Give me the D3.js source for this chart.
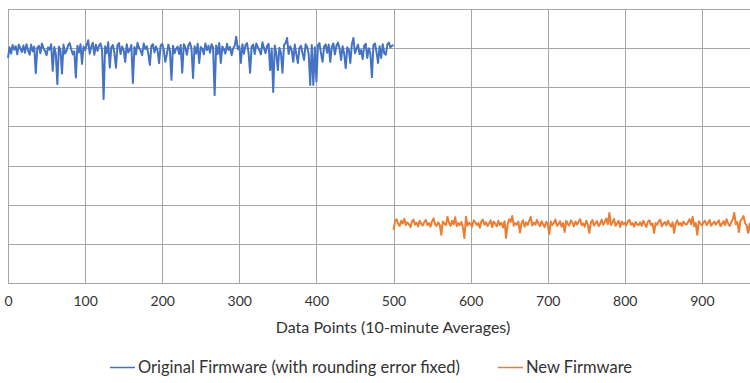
<!DOCTYPE html>
<html>
<head>
<meta charset="utf-8">
<script src="https://cdn.jsdelivr.net/npm/d3@7"></script>
<style>
  body { margin: 0; background: #fff; }
  svg { display: block; font-family: Lato, "Open Sans", sans-serif; }
</style>
</head>
<body>
<svg width="750" height="383"></svg>
<script>
// Series data, one value every 2 data points
const step = 2;
const originalStart = 0;
const originalValues = [
  57.5, 60.2, 58.6, 60.8, 59.6, 60.5, 58.4, 60.9, 60.0, 59.0,
  60.7, 58.8, 61.0, 59.5, 58.3, 60.9, 59.2, 60.4, 53.6, 60.1,
  60.6, 58.7, 61.2, 60.0, 59.3, 58.2, 60.2, 59.6, 61.0, 54.2,
  60.3, 58.5, 50.8, 60.4, 59.6, 53.5, 60.9, 58.6, 59.4, 60.7,
  61.3, 59.8, 58.4, 59.2, 52.5, 60.6, 58.9, 61.0, 56.0, 60.4,
  59.5, 60.8, 62.0, 58.6, 60.3, 61.4, 58.3, 60.9, 59.3, 60.6,
  61.2, 59.7, 47.0, 60.5, 58.7, 61.5, 55.0, 60.2, 60.8, 58.8,
  55.0, 60.7, 61.3, 58.5, 60.4, 59.5, 56.5, 61.0, 58.9, 59.6,
  60.8, 51.1, 60.3, 58.4, 61.4, 60.0, 59.4, 58.2, 61.2, 59.8,
  60.5, 58.6, 55.7, 60.6, 61.0, 58.9, 60.4, 59.5, 56.2, 60.7,
  61.1, 59.6, 56.5, 58.4, 60.9, 59.4, 51.9, 60.6, 58.7, 59.8,
  60.4, 58.5, 60.8, 53.7, 61.0, 60.1, 58.3, 60.7, 61.4, 59.9,
  52.4, 60.5, 58.6, 61.1, 56.2, 60.3, 59.8, 58.4, 61.2, 59.5,
  60.6, 58.8, 61.0, 60.2, 48.0, 60.7, 58.5, 61.3, 56.2, 60.4,
  59.7, 58.6, 61.1, 59.5, 60.3, 58.2, 59.9, 60.6, 62.9, 59.8,
  60.5, 56.2, 61.0, 58.6, 60.7, 61.3, 58.9, 53.7, 60.4, 60.9,
  58.5, 61.2, 60.3, 59.5, 58.4, 61.5, 60.0, 58.7, 60.6, 61.1,
  54.4, 59.9, 48.8, 60.7, 58.6, 54.4, 60.1, 58.8, 53.7, 60.8,
  61.3, 62.6, 58.5, 60.5, 59.4, 56.5, 60.9, 58.4, 56.2, 60.0,
  60.6, 58.7, 57.0, 61.0, 60.3, 58.5, 50.6, 60.8, 50.6, 60.2,
  51.5, 60.7, 61.3, 58.6, 56.5, 60.4, 61.0, 58.8, 60.9, 56.5,
  60.3, 61.2, 58.4, 60.6, 61.4, 59.9, 57.0, 60.5, 58.6, 54.9,
  60.2, 59.6, 56.2, 61.0, 62.6, 58.7, 59.8, 60.9, 58.5, 59.5,
  57.2, 60.7, 61.1, 57.5, 60.0, 58.6, 52.6, 60.8, 61.2, 58.9,
  56.2, 60.5, 57.5, 61.0, 58.7, 58.3, 60.9, 61.4, 60.2, 60.6,
  60.8
];
const newStart = 500;
const newValues = [
  13.6, 15.8, 16.3, 15.1, 14.6, 15.9, 15.2, 16.4, 14.8, 15.5,
  15.0, 14.3, 15.7, 16.2, 14.9, 15.4, 14.5, 15.9, 15.1, 14.7,
  15.6, 16.1, 14.8, 15.3, 14.4, 15.8, 16.5, 15.0, 14.6, 15.5,
  14.9, 12.3, 15.7, 15.2, 14.8, 16.9, 15.4, 14.6, 15.9, 15.0,
  16.8, 14.5, 15.3, 14.8, 15.6, 14.2, 11.5, 16.9, 14.7, 15.4,
  15.0, 14.4, 16.0, 15.6, 14.8, 15.3, 14.1, 15.8, 16.2, 14.9,
  15.5, 14.6, 15.2, 16.0, 14.3, 15.7, 15.1, 14.5, 15.9, 14.8,
  15.4, 14.2, 15.8, 11.5, 15.0, 16.3, 15.6, 17.1, 14.6, 15.3,
  14.9, 15.7, 12.9, 15.2, 16.0, 14.4, 15.5, 14.8, 15.9, 16.9,
  14.7, 15.4, 14.9, 16.1, 15.2, 14.5, 15.8, 15.0, 14.3, 15.6,
  15.1, 12.5, 15.7, 14.8, 15.4, 16.2, 14.6, 15.0, 15.8, 14.4,
  15.3, 13.0, 15.9, 15.1, 14.7, 16.0, 15.4, 14.5, 15.7, 14.9,
  15.6, 16.3, 14.8, 15.2, 14.4, 15.9, 15.0, 12.8, 15.5, 16.1,
  14.7, 15.3, 15.8, 14.5, 15.1, 16.2, 14.9, 15.6, 16.5, 15.0,
  17.9, 14.8, 15.5, 16.4, 14.6, 15.2, 15.9, 14.3, 15.7, 15.0,
  15.4, 14.7, 15.8, 16.1, 14.9, 15.3, 14.4, 15.6, 15.0, 14.8,
  15.5, 14.6, 15.9, 15.1, 14.3, 15.7, 16.0, 14.8, 15.2, 12.8,
  15.3, 14.9, 15.8, 16.2, 14.5, 15.1, 15.6, 14.7, 15.9, 15.0,
  14.4, 15.5, 12.8, 15.2, 16.0, 14.8, 15.4, 14.6, 15.7, 15.1,
  14.9, 15.6, 16.3, 15.0, 16.9, 14.5, 15.3, 12.3, 15.8, 15.2,
  14.7, 15.5, 15.9, 14.8, 15.3, 16.1, 14.6, 15.2, 15.7, 14.9,
  15.4, 16.0, 14.5, 15.1, 15.8, 14.8, 16.3, 15.2, 14.6, 15.5,
  16.2, 17.9, 15.0, 15.6, 13.0, 15.9, 16.4, 17.1, 15.3, 14.8,
  12.8, 15.2, 12.3, 15.6, 14.9, 15.4, 15.0
];
const xTicks = [0, 100, 200, 300, 400, 500, 600, 700, 800, 900, 1000];
const xLabels = [0, 100, 200, 300, 400, 500, 600, 700, 800, 900];
const yTicks = [0, 10, 20, 30, 40, 50, 60, 70];
const seriesNames = ["Original Firmware (with rounding error fixed)", "New Firmware"];
const colors = ["#4472c4", "#ed7d31"];

const svg = d3.select("svg");
const margin = { top: 9, left: 8 };
const plotW = 771, plotH = 274;

const g = svg.append("g").attr("transform", `translate(${margin.left},${margin.top})`);

const x = d3.scaleLinear().domain([0, 1000]).range([0, plotW]);
const y = d3.scaleLinear().domain([0, 70]).range([plotH, 0]);

// gridlines
g.append("g")
  .selectAll("line")
  .data(yTicks)
  .join("line")
  .attr("x1", 0).attr("x2", plotW)
  .attr("y1", d => Math.round(y(d)) + 0.5).attr("y2", d => Math.round(y(d)) + 0.5)
  .attr("stroke", "#a6a6a6").attr("stroke-width", 1);

g.append("g")
  .selectAll("line")
  .data(xTicks)
  .join("line")
  .attr("x1", d => Math.round(x(d)) + 0.5).attr("x2", d => Math.round(x(d)) + 0.5)
  .attr("y1", 0).attr("y2", plotH)
  .attr("stroke", "#a6a6a6").attr("stroke-width", 1);

// x axis labels (1000 falls outside the picture)
const xAxis = g.append("g")
  .attr("transform", `translate(0,${plotH})`)
  .call(d3.axisBottom(x).tickValues(xLabels).tickSize(0).tickPadding(13));
xAxis.select(".domain").remove();
xAxis.selectAll("text")
  .attr("font-family", "Lato, 'Open Sans', sans-serif")
  .attr("font-size", 14)
  .attr("fill", "#333");

// lines
const line = d3.line()
  .x(d => x(d.x))
  .y(d => y(d.v));

const originalData = originalValues.map((v, i) => ({ x: originalStart + i * step, v }));
const newData = newValues.map((v, i) => ({ x: newStart + i * step, v }));

[originalData, newData].forEach((data, i) => {
  g.append("path")
    .datum(data)
    .attr("fill", "none")
    .attr("stroke", colors[i])
    .attr("stroke-width", 2)
    .attr("stroke-linejoin", "round")
    .attr("d", line);
});

// axis title
svg.append("text")
  .attr("x", 393)
  .attr("y", 333)
  .attr("text-anchor", "middle")
  .attr("font-size", 16)
  .attr("fill", "#333")
  .text("Data Points (10-minute Averages)");

// legend
const legendItems = [
  { x: 110, name: seriesNames[0], color: colors[0] },
  { x: 498, name: seriesNames[1], color: colors[1] }
];
const legend = svg.append("g");
legendItems.forEach(d => {
  legend.append("line")
    .attr("x1", d.x).attr("x2", d.x + 25)
    .attr("y1", 367.5).attr("y2", 367.5)
    .attr("stroke", d.color).attr("stroke-width", 1.5);
  legend.append("text")
    .attr("x", d.x + 28)
    .attr("y", 373)
    .attr("font-size", 16.5)
    .attr("fill", "#333")
    .text(d.name);
});
</script>
</body>
</html>
